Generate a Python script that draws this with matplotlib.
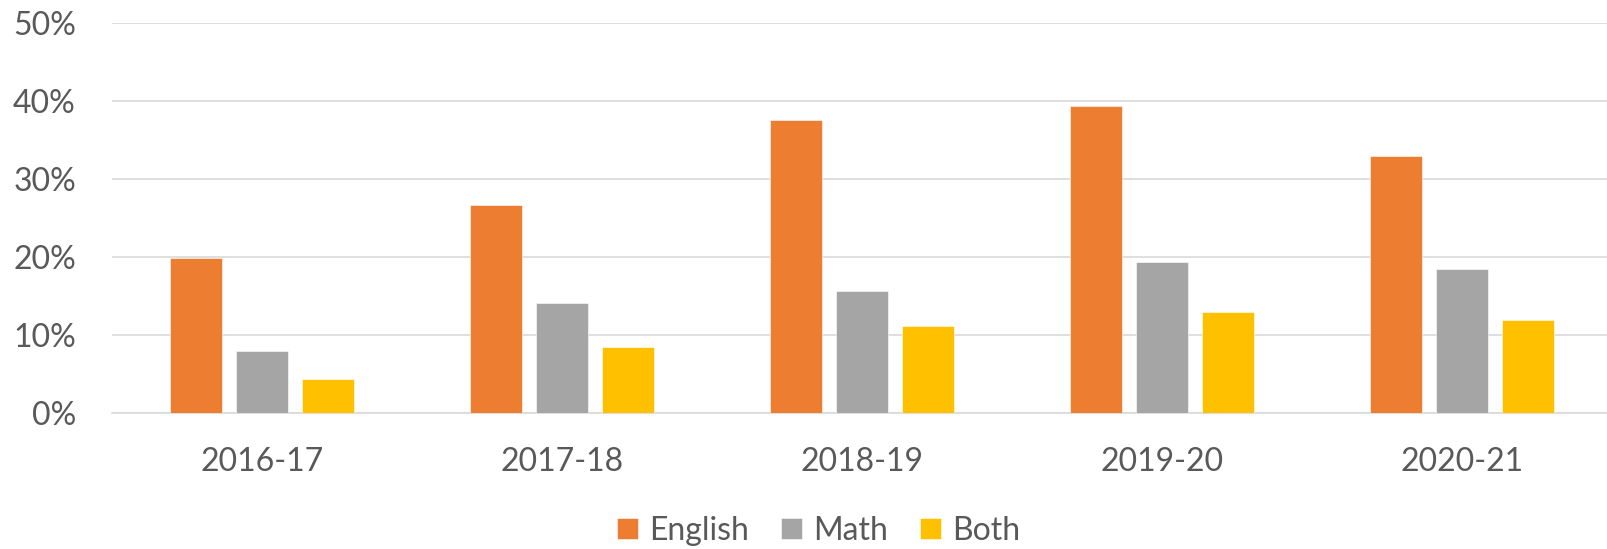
import matplotlib.pyplot as plt
import numpy as np

# dados
anos = ["2016-17", "2017-18", "2018-19", "2019-20", "2020-21"]
english = [19.9, 26.7, 37.6, 39.4, 33.0]
math = [7.9, 14.1, 15.7, 19.4, 18.5]
both = [4.4, 8.5, 11.2, 13.0, 11.9]

series = ["English", "Math", "Both"]
cores = ["#ED7D31", "#A5A5A5", "#FFC000"]

cinza_texto = "#595959"
plt.rcParams['font.family'] = ['Lato', 'DejaVu Sans']
tamanho = 23

fig = plt.figure(figsize=(16.08, 5.49), dpi=100)
ax = fig.add_axes([0.06965, 0.2477, 0.9328, 0.7104])

x = np.arange(len(anos))
largura = 0.175
passo = 0.22
for k, (valores, nome, cor) in enumerate(zip([english, math, both], series, cores)):
    ax.bar(x + (k - 1)*passo, valores, width=largura, color=cor, label=nome,
           edgecolor='white', linewidth=0.4, zorder=3)

ax.set_xlim(-0.5, len(anos) - 0.5)
ax.set_ylim(0, 50)
ax.set_yticks(np.arange(0, 51, 10))
ax.set_yticklabels([f"{v}%" for v in range(0, 51, 10)])
ax.set_xticks(x)
ax.set_xticklabels(anos)

ax.grid(axis='y', color="#D9D9D9", linewidth=1.2, zorder=0)
for lado in ['top', 'right', 'left']:
    ax.spines[lado].set_visible(False)
ax.spines['bottom'].set_color("#D9D9D9")
ax.spines['bottom'].set_linewidth(1.2)

ax.tick_params(axis='both', length=0, labelsize=tamanho, labelcolor=cinza_texto)
ax.tick_params(axis='y', pad=26)
ax.tick_params(axis='x', pad=24.5)

fig.legend(loc='center', bbox_to_anchor=(0.509, 0.033), ncol=3, frameon=False,
           fontsize=tamanho, labelcolor=cinza_texto, handlelength=0.66, handleheight=0.62,
           handletextpad=0.33, columnspacing=1.02, borderpad=0)

fig.savefig("out.png", dpi=100)
